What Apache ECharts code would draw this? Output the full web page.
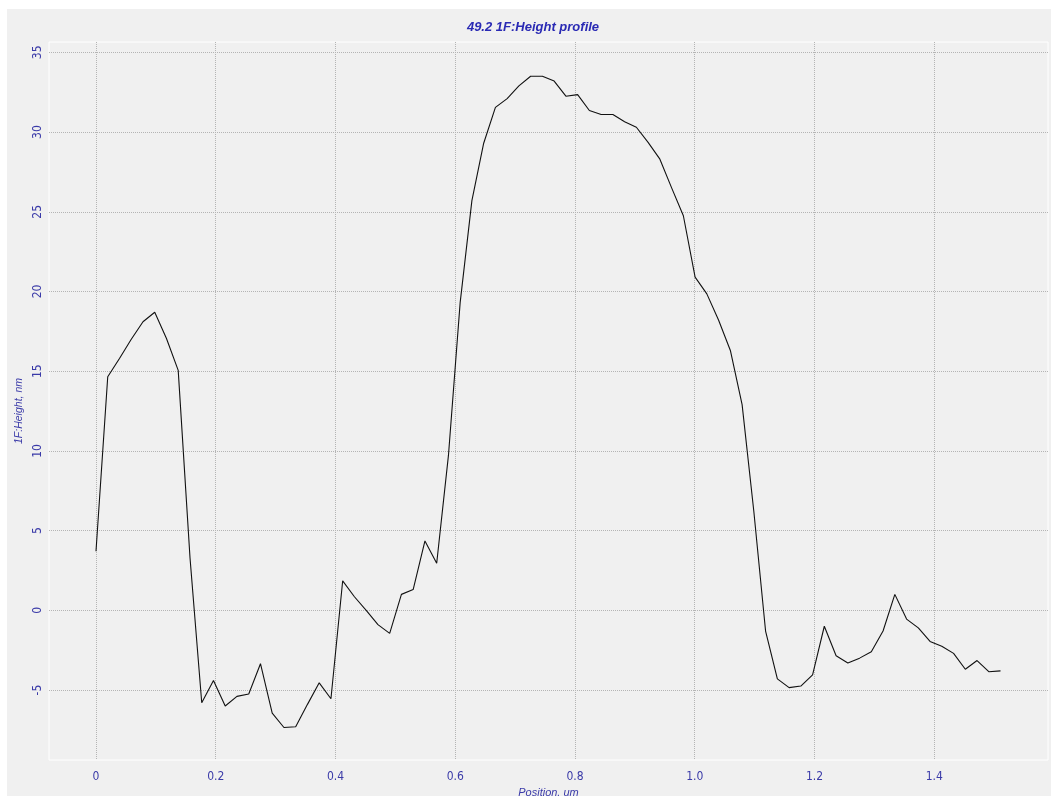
<!DOCTYPE html>
<html>
<head>
<meta charset="utf-8">
<script src="https://cdn.jsdelivr.net/npm/echarts@6/dist/echarts.min.js"></script>
<style>
html,body{margin:0;padding:0;background:#ffffff;width:1051px;height:796px;overflow:hidden}
#chart{position:absolute;left:7px;top:9px;width:1044px;height:787px;background:#f0f0f0}
</style>
</head>
<body>
<div id="chart"></div>
<script>
// Position along the profile, um
const positions = [
  0.0000, 0.0196, 0.0392, 0.0589, 0.0785, 0.0981, 0.1177, 0.1373, 0.1570, 0.1766,
  0.1962, 0.2158, 0.2354, 0.2551, 0.2747, 0.2943, 0.3139, 0.3335, 0.3532, 0.3728,
  0.3924, 0.4120, 0.4316, 0.4513, 0.4709, 0.4905, 0.5101, 0.5297, 0.5494, 0.5690,
  0.5886, 0.6082, 0.6278, 0.6475, 0.6671, 0.6867, 0.7063, 0.7259, 0.7456, 0.7652,
  0.7848, 0.8044, 0.8240, 0.8437, 0.8633, 0.8829, 0.9025, 0.9221, 0.9418, 0.9614,
  0.9810, 1.0006, 1.0202, 1.0399, 1.0595, 1.0791, 1.0987, 1.1183, 1.1380, 1.1576,
  1.1772, 1.1968, 1.2164, 1.2361, 1.2557, 1.2753, 1.2949, 1.3145, 1.3342, 1.3538,
  1.3734, 1.3930, 1.4126, 1.4323, 1.4519, 1.4715, 1.4911, 1.5107
];
// Height, nm
const heights = [
  3.7, 14.65, 15.8, 17.0, 18.1, 18.7, 17.05, 15.05, 3.3, -5.8,
  -4.4, -6.0, -5.4, -5.25, -3.35, -6.45, -7.35, -7.3, -5.9, -4.55,
  -5.55, 1.85, 0.85, 0.0, -0.9, -1.45, 1.0, 1.3, 4.35, 2.95,
  9.7, 19.3, 25.7, 29.3, 31.55, 32.1, 32.9, 33.5, 33.5, 33.2,
  32.25, 32.35, 31.35, 31.1, 31.1, 30.65, 30.3, 29.35, 28.3, 26.5,
  24.75, 20.9, 19.85, 18.2, 16.3, 12.9, 6.2, -1.3, -4.3, -4.85,
  -4.75, -4.05, -1.0, -2.85, -3.3, -3.0, -2.6, -1.3, 1.0, -0.55,
  -1.1, -1.95, -2.25, -2.7, -3.7, -3.15, -3.85, -3.8
];
const xTickValues = [0, 0.2, 0.4, 0.6, 0.8, 1.0, 1.2, 1.4];
const xTickLabels = ['0', '0.2', '0.4', '0.6', '0.8', '1.0', '1.2', '1.4'];
const yTickValues = [-5, 0, 5, 10, 15, 20, 25, 30, 35];
const yTickLabels = ['-5', '0', '5', '10', '15', '20', '25', '30', '35'];
const titleText = '49.2 1F:Height profile';
const xAxisName = 'Position, um';
const yAxisName = '1F:Height, nm';

const labelFont = "'Liberation Sans Narrow', 'DejaVu Sans Condensed', sans-serif";
const labelColor = '#3a3aa8';

function labelFor(values, labels) {
  return function (v) {
    for (let i = 0; i < values.length; i++) {
      if (Math.abs(values[i] - v) < 1e-9) return labels[i];
    }
    return '';
  };
}

const chart = echarts.init(document.getElementById('chart'), null, { renderer: 'canvas' });
chart.setOption({
  backgroundColor: '#f0f0f0',
  animation: false,
  title: {
    text: titleText,
    left: 526,
    top: 12,
    padding: 0,
    textAlign: 'center',
    textStyle: {
      fontFamily: "'Liberation Sans', Arial, sans-serif",
      fontSize: 13,
      fontWeight: 'bold',
      fontStyle: 'italic',
      color: '#2a2ab4'
    }
  },
  grid: {
    left: 42, top: 33, right: 3, bottom: 36,
    show: true,
    borderColor: '#ffffff',
    borderWidth: 1,
    backgroundColor: '#f0f0f0',
    containLabel: false,
    outerBoundsMode: 'none'
  },
  xAxis: {
    type: 'value',
    min: -0.0785,
    max: 1.590,
    name: xAxisName,
    nameLocation: 'middle',
    nameGap: 25,
    nameTextStyle: {
      fontFamily: "'Liberation Sans', Arial, sans-serif",
      fontSize: 11,
      fontStyle: 'italic',
      color: labelColor
    },
    axisLine: { show: false },
    axisTick: { show: false, customValues: xTickValues },
    axisLabel: {
      customValues: xTickValues,
      formatter: labelFor(xTickValues, xTickLabels),
      margin: 11,
      fontFamily: labelFont,
      fontSize: 12,
      color: labelColor
    },
    splitLine: {
      show: true,
      lineStyle: { color: '#b4b4b4', width: 1, type: [1, 1] }
    }
  },
  yAxis: {
    type: 'value',
    min: -9.39,
    max: 35.65,
    name: yAxisName,
    nameLocation: 'middle',
    nameRotate: 90,
    nameGap: 23,
    nameTextStyle: {
      fontFamily: "'Liberation Sans', Arial, sans-serif",
      fontSize: 10.5,
      fontStyle: 'italic',
      color: labelColor,
      padding: [0, 20, 0, 0]
    },
    axisLine: { show: false },
    axisTick: { show: false, customValues: yTickValues },
    axisLabel: {
      customValues: yTickValues,
      formatter: labelFor(yTickValues, yTickLabels),
      rotate: 90,
      margin: 5,
      fontFamily: labelFont,
      fontSize: 12,
      color: labelColor
    },
    splitLine: {
      show: true,
      lineStyle: { color: '#b4b4b4', width: 1, type: [1, 1] }
    }
  },
  series: [{
    type: 'line',
    data: positions.map((p, i) => [p, heights[i]]),
    showSymbol: false,
    symbol: 'none',
    smooth: false,
    lineStyle: { color: '#111111', width: 1.1 },
    z: 5
  }]
});
</script>
</body>
</html>
